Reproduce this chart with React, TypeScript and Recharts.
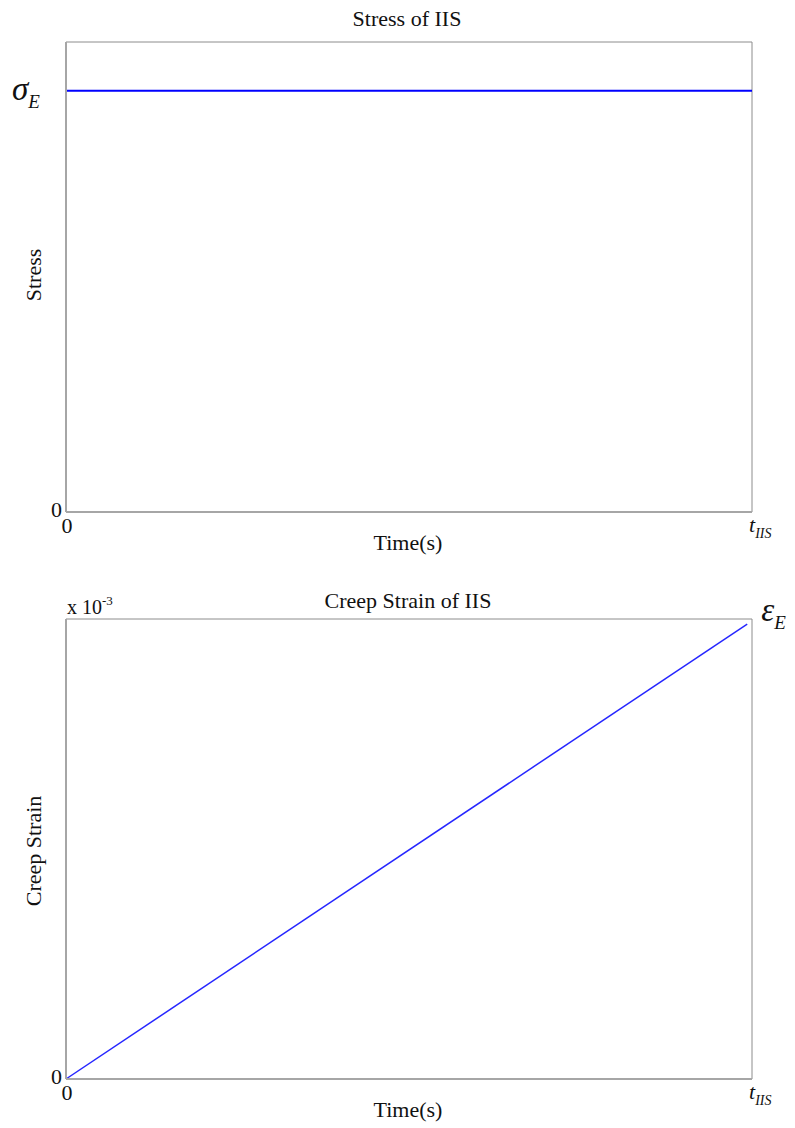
import { LineChart, Line, XAxis, YAxis, ReferenceArea, ReferenceDot } from 'recharts'

// stress step: jumps to sigma_E at t=0 and holds until t_IIS
const stressTime = [0, 0, 1]
const stressLevel = [0, 1, 1]
// creep strain grows linearly up to eps_E
const strainTime = [0, 0.993]
const strainLevel = [0, 0.989]
const timeTicks = [0, 1]

const stressData = stressTime.map((t, i) => ({ t, v: stressLevel[i] }))
const strainData = strainTime.map((t, i) => ({ t, v: strainLevel[i] }))
const strainEnd = strainData[strainData.length - 1]

const FONT = '"Liberation Serif", "Times New Roman", serif'
const AXIS = '#a6a6a6'
const FRAME = '#8c8c8c'
const STRESS_TOP = 1.116

function TimeTick(props: any) {
  const { x, y, payload } = props
  if (payload.value === 0) {
    return (
      <text x={x + 1} y={y + 21} textAnchor="middle" fontSize={22} fontFamily={FONT} fill="#111">
        0
      </text>
    )
  }
  return (
    <text x={x - 3} y={y + 20} fontSize={22} fontFamily={FONT} fontStyle="italic" fill="#111">
      t
      <tspan fontSize={14} dy={6}>
        IIS
      </tspan>
    </text>
  )
}

function ZeroTick(props: any) {
  const { x, y, payload } = props
  if (payload.value !== 0) return <g />
  return (
    <text x={x - 4} y={y + 5} textAnchor="end" fontSize={22} fontFamily={FONT} fill="#111">
      0
    </text>
  )
}

function SigmaTick(props: any) {
  const { x, y, payload } = props
  if (payload.value === 0) return <ZeroTick {...props} />
  return (
    <text x={x - 54} y={y + 9} fontSize={33} fontFamily={FONT} fontStyle="italic" fill="#111">
      σ
      <tspan fontSize={19} dy={8}>
        E
      </tspan>
    </text>
  )
}

function EpsMark(props: any) {
  const { cx, cy } = props
  return (
    <text x={cx + 14} y={cy - 3} fontSize={33} fontFamily={FONT} fontStyle="italic" fill="#111">
      ε
      <tspan fontSize={19} dy={8}>
        E
      </tspan>
    </text>
  )
}

function StressChart() {
  return (
    <LineChart
      width={795}
      height={570}
      data={stressData}
      margin={{ top: 42, right: 43, bottom: 57, left: 65 }}
    >
      <XAxis
        dataKey="t"
        type="number"
        domain={[0, 1]}
        ticks={timeTicks}
        interval={0}
        height={1}
        tickSize={0}
        tickMargin={0}
        tickLine={false}
        stroke={AXIS}
        strokeWidth={2}
        tick={<TimeTick />}
      />
      <YAxis
        type="number"
        domain={[0, STRESS_TOP]}
        ticks={[0, 1]}
        interval={0}
        width={1}
        tickSize={0}
        tickMargin={0}
        tickLine={false}
        stroke={AXIS}
        strokeWidth={2}
        tick={<SigmaTick />}
      />
      <ReferenceArea x1={0} x2={1} y1={0} y2={STRESS_TOP} fill="none" stroke={FRAME} strokeWidth={1} />
      <Line
        dataKey="v"
        type="linear"
        stroke="#0000ff"
        strokeWidth={2}
        dot={false}
        isAnimationActive={false}
      />
    </LineChart>
  )
}

function StrainChart() {
  return (
    <LineChart
      width={795}
      height={558}
      data={strainData}
      margin={{ top: 49, right: 43, bottom: 48, left: 65 }}
    >
      <XAxis
        dataKey="t"
        type="number"
        domain={[0, 1]}
        ticks={timeTicks}
        interval={0}
        height={1}
        tickSize={0}
        tickMargin={0}
        tickLine={false}
        stroke={AXIS}
        strokeWidth={2}
        tick={<TimeTick />}
      />
      <YAxis
        type="number"
        domain={[0, 1]}
        ticks={[0]}
        interval={0}
        width={1}
        tickSize={0}
        tickMargin={0}
        tickLine={false}
        stroke={AXIS}
        strokeWidth={2}
        tick={<ZeroTick />}
      />
      <ReferenceArea x1={0} x2={1} y1={0} y2={1} fill="none" stroke={FRAME} strokeWidth={1} />
      <Line
        dataKey="v"
        type="linear"
        stroke="#2626ff"
        strokeWidth={1.5}
        dot={false}
        isAnimationActive={false}
      />
      <ReferenceDot
        x={strainEnd.t}
        y={strainEnd.v}
        r={0}
        ifOverflow="visible"
        shape={<EpsMark />}
      />
    </LineChart>
  )
}

export default function App() {
  const label = { fontFamily: FONT, fontSize: 22, fill: '#111' }
  return (
    <div style={{ position: 'absolute', left: 0, top: 0, width: 795, height: 1128, background: '#fff' }}>
      <div style={{ position: 'absolute', left: 0, top: 0 }}>
        <StressChart />
      </div>
      <div style={{ position: 'absolute', left: 0, top: 570 }}>
        <StrainChart />
      </div>
      <svg
        width={795}
        height={1128}
        style={{ position: 'absolute', left: 0, top: 0, pointerEvents: 'none' }}
      >
        <text x={407} y={26} textAnchor="middle" {...label}>
          Stress of IIS
        </text>
        <text x={41} y={275} textAnchor="middle" transform="rotate(-90 41 275)" {...label}>
          Stress
        </text>
        <text x={408} y={550} textAnchor="middle" {...label}>
          Time(s)
        </text>
        <text x={408} y={608} textAnchor="middle" {...label}>
          Creep Strain of IIS
        </text>
        <text x={67} y={614} {...label} fontSize={20}>
          x 10
          <tspan fontSize={13} dy={-9}>
            -3
          </tspan>
        </text>
        <text x={41} y={851} textAnchor="middle" transform="rotate(-90 41 851)" {...label}>
          Creep Strain
        </text>
        <text x={408} y={1117} textAnchor="middle" {...label}>
          Time(s)
        </text>
      </svg>
    </div>
  )
}
